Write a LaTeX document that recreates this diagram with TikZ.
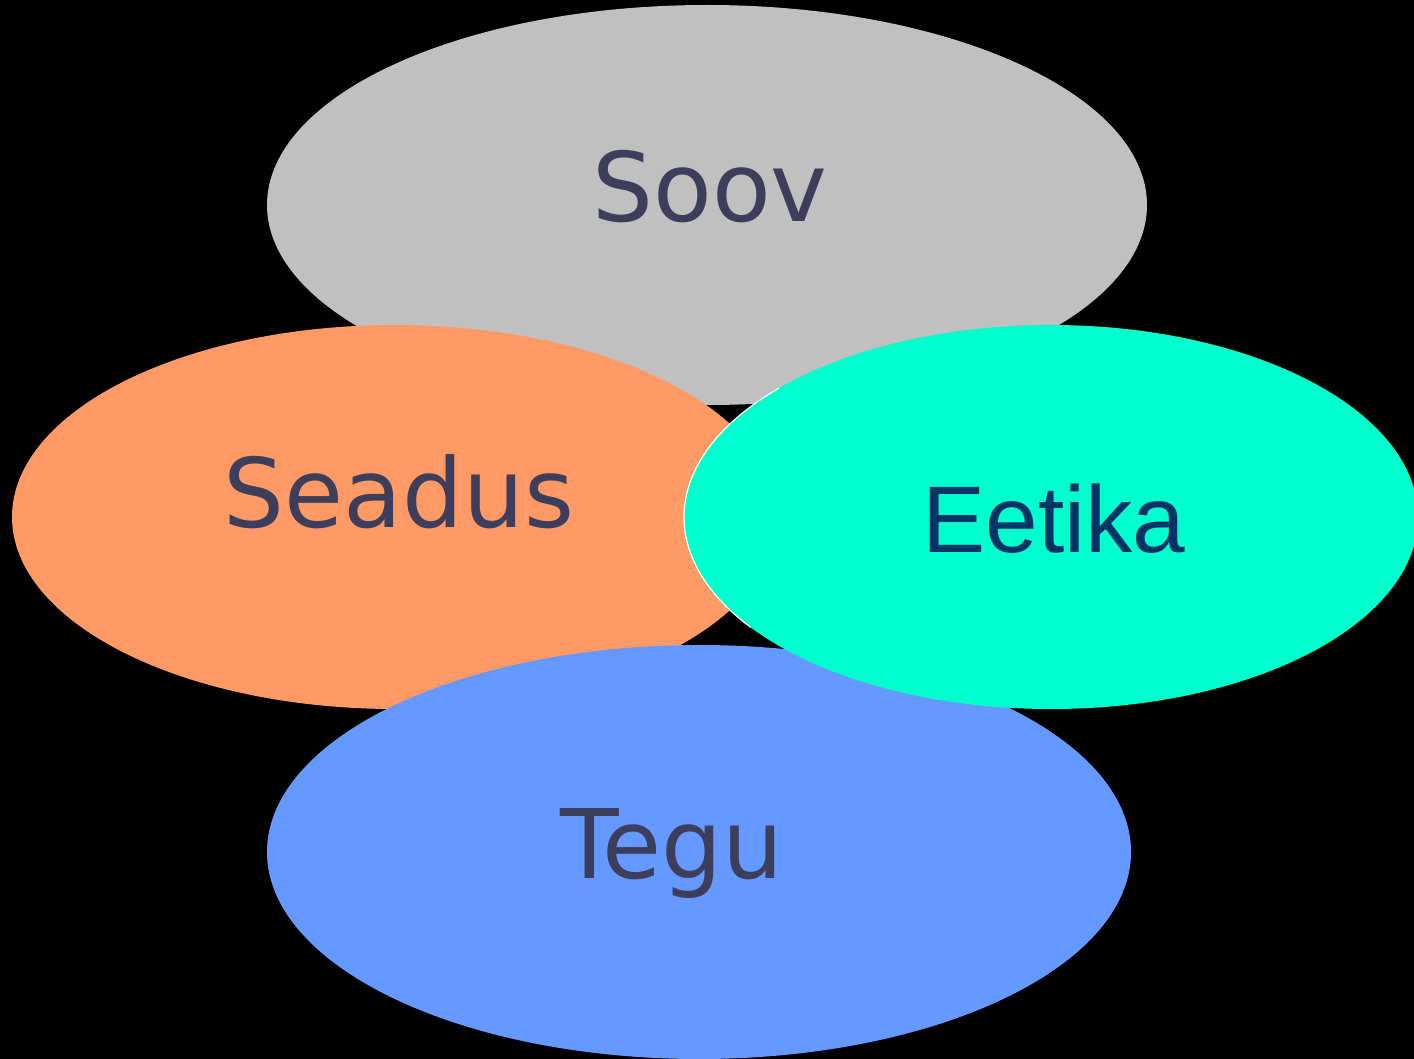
\documentclass[tikz,border=0pt]{standalone}
\usepackage{fontspec}
\setmainfont{DejaVu Sans}
\newfontfamily\arialfont{Liberation Sans}
\usetikzlibrary{shapes.geometric}
\definecolor{soovgray}{HTML}{C0C0C0}
\definecolor{seadusorange}{HTML}{FF9966}
\definecolor{eetikacyan}{HTML}{00FFCC}
\definecolor{tegublue}{HTML}{6699FF}
\definecolor{labelslate}{HTML}{3D3D5C}
\definecolor{labelnavy}{HTML}{003366}
\tikzset{
  lbl/.style={anchor=base, inner sep=0pt, text=labelslate, font=\fontsize{72}{80}\selectfont},
  lblarial/.style={anchor=base, inner sep=0pt, text=labelnavy, font=\arialfont\fontsize{71}{80}\selectfont},
}
\begin{document}
\begin{tikzpicture}[x=0.75pt,y=-0.75pt]
\fill[black] (0,0) rectangle (1414,1059);
\useasboundingbox (0,0) rectangle (1414,1059);
\clip (0,0) rectangle (1414,1059);
\fill[soovgray] (707,205) ellipse [x radius=440, y radius=200];
\fill[seadusorange] (395,517) ellipse [x radius=383, y radius=192];
\fill[tegublue] (699,852) ellipse [x radius=432, y radius=207];
\fill[eetikacyan] (1051,517) ellipse [x radius=367, y radius=192];
\coordinate (ec) at (1051,517);
\draw[white, line width=0.9pt, line cap=round] (ec) ++(145:367 and 192) arc [start angle=145, end angle=222, x radius=367, y radius=192];
\node[lbl] (soov) at (710,222) {Soov};
\node[lbl] (seadus) at (399,527) {Seadus};
\node[lblarial] (eetika) at (1054,552) {Eetika};
\node[lbl] (tegu) at (672,878) {Tegu};
\end{tikzpicture}
\end{document}
